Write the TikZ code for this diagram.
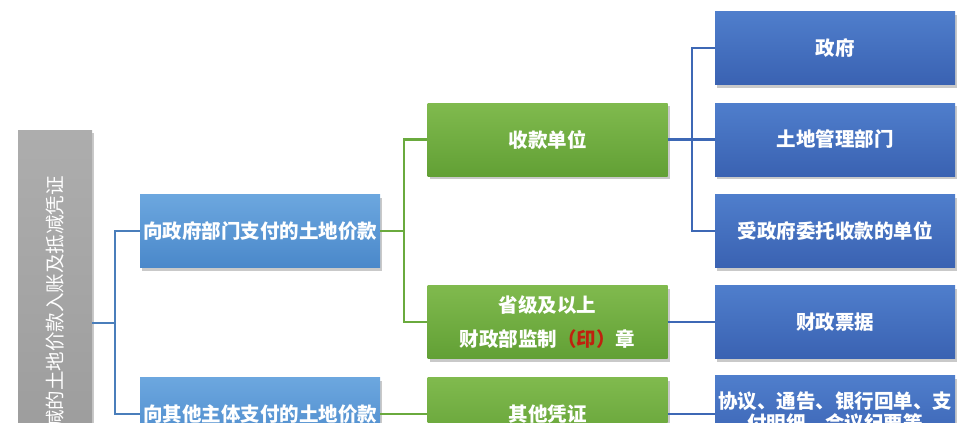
\documentclass[tikz,border=0pt]{standalone}
\usepackage{fontspec}
\setmainfont{Noto Sans CJK SC}
\usetikzlibrary{shadows}
\definecolor{grisA}{HTML}{ADADAD}
\definecolor{grisB}{HTML}{999999}
\definecolor{azulA}{HTML}{6CA7DF}
\definecolor{azulB}{HTML}{4A88CA}
\definecolor{azulC}{HTML}{4F7ECC}
\definecolor{azulD}{HTML}{3A62B2}
\definecolor{verdeA}{HTML}{80BA4E}
\definecolor{verdeB}{HTML}{62A035}
\definecolor{lineaAzul}{HTML}{4A7EBB}
\definecolor{lineaAzulO}{HTML}{3D68B5}
\definecolor{lineaVerde}{HTML}{6AAA3E}
\definecolor{rojoSello}{HTML}{C0210E}
\begin{document}
\begin{tikzpicture}[x=1pt, y=-1pt,
        every node/.style={font=\fontsize{19.5}{34}\selectfont\bfseries, text=white, align=center},
        caja/.style={minimum width=240, minimum height=73, inner sep=2pt,
            drop shadow={shadow xshift=2pt, shadow yshift=-3pt, opacity=0.3, fill=black!70}},
        raiz/.style={caja, top color=grisA, bottom color=grisB, minimum width=74, minimum height=386},
        pago/.style={caja, top color=azulA, bottom color=azulB},
        soporte/.style={caja, top color=verdeA, bottom color=verdeB},
        emisor/.style={caja, top color=azulC, bottom color=azulD},
        lazul/.style={draw=lineaAzul, line width=2.4pt},
        lazulo/.style={draw=lineaAzulO, line width=2.4pt},
        lverde/.style={draw=lineaVerde, line width=2.4pt}
    ]
    \useasboundingbox (0,0) rectangle (970,423);
    \clip (0,0) rectangle (970,423);

    % Raiz
    \node[raiz] (raiz) at (55,323) {};
    \node[rotate=90, anchor=east, inner sep=0pt, font=\fontsize{19.5}{19.5}\selectfont] (raiztexto) at (55,176) {减的土地价款入账及抵减凭证};

    % Pagos
    \node[pago] (gobierno) at (260,231) {向政府部门支付的土地价款};
    \node[pago] (otros) at (260,414) {向其他主体支付的土地价款};

    % Soportes
    \node[soporte] (cobro) at (547.5,139.5) {收款单位};
    \node[soporte] (sello) at (547.5,322) {省级及以上\\财政部监制{\color{rojoSello}（印）}章};
    \node[soporte] (otrosv) at (547.5,414) {其他凭证};

    % Emisores
    \node[emisor] (gob) at (835,48) {政府};
    \node[emisor] (tierra) at (835,139.5) {土地管理部门};
    \node[emisor] (encargo) at (835,231) {受政府委托收款的单位};
    \node[emisor] (fiscal) at (835,322) {财政票据};
    \node[emisor, font=\fontsize{19.5}{22}\selectfont\bfseries] (acuerdo) at (835,412) {协议、通告、银行回单、支\\付明细、会议纪要等};

    % Aristas
    \coordinate (j1) at (115,323);
    \coordinate (j2) at (404,231);
    \coordinate (j3) at (692,139.5);
    \draw[lazul] (raiz.east) -- (j1) |- (gobierno.west);
    \draw[lazul] (j1) |- (otros.west);
    \draw[lverde] (gobierno.east) -- (j2) |- (cobro.west);
    \draw[lverde] (j2) |- (sello.west);
    \draw[lverde] (otros.east) -- (otrosv.west);
    \draw[lazulo] (cobro.east) -- (j3) |- (gob.west);
    \draw[lazulo] (j3) |- (tierra.west);
    \draw[lazulo] (j3) |- (encargo.west);
    \draw[lazulo] (sello.east) -- (fiscal.west);
    \draw[lazulo] (otrosv.east) -- (otrosv.east -| acuerdo.west);
\end{tikzpicture}
\end{document}
